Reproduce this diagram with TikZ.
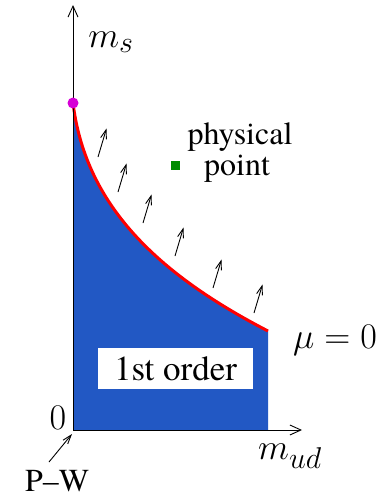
\documentclass[tikz,border=0pt]{standalone}
\usepackage{fontspec}
\IfFontExistsTF{texgyretermes-regular.otf}
  {\newfontfamily\tnr{texgyretermes-regular.otf}}
  {\newfontfamily\tnr{Liberation Serif}}
\usetikzlibrary{arrows.meta}
\definecolor{fillblue}{RGB}{34,88,196}
\definecolor{ptgreen}{RGB}{0,140,0}
\definecolor{dotmag}{RGB}{214,0,214}
\tikzset{
  axis/.style={line width=0.9, -{Straight Barb[length=11,width=10]}},
  flowarrow/.style={line width=0.9, -{Straight Barb[length=9,width=6]}},
  lbl/.style={inner sep=0, font=\tnr\fontsize{32}{32}\selectfont},
  mlbl/.style={inner sep=0, font=\Huge, scale=1.45},
  crit/.style={red, line width=3},
}
\begin{document}
\begin{tikzpicture}[x=1pt,y=-1pt]
\useasboundingbox (0,0) rectangle (382,498);
\coordinate (O) at (73,430);
\coordinate (A) at (73,103);
\coordinate (B) at (268,331);
\coordinate (C) at (268,430);
\coordinate (ytip) at (73,5);
\coordinate (xtip) at (302,430);
% region
\fill[fillblue] (O) -- (A) .. controls (85,200) and (150,270) .. (B) -- (C) -- cycle;
\draw[crit] (A) .. controls (85,200) and (150,270) .. (B);
% axes
\draw[axis] (O) -- (ytip);
\draw[axis] (O) -- (xtip);
\fill[dotmag] (A) circle (5.5);
% flow arrows
\foreach \x/\y in {98/157, 118/192, 143/223, 175/256, 213/288, 254/313}
  \draw[flowarrow] (\x,\y) -- ++(8.5,-28.5);
% labels
\node[mlbl] (ms) at (111,42) {$m_s$};
\node[mlbl] (mud) at (290,456) {$m_{ud}$};
\node[mlbl] (mu) at (335,340) {$\mu=0$};
\node[mlbl] (zero) at (58,418) {$0$};
\node[lbl] (PW) at (57,481) {P–W};
\coordinate (pwtail) at (49,462);
\coordinate (pwtip) at (72,434);
\draw[flowarrow] (pwtail) -- (pwtip);
\node[lbl, anchor=base] (phys) at (240,144) {physical};
\node[lbl, anchor=base] (pt) at (237,175) {point};
\node[fill=ptgreen, minimum size=9, inner sep=0] (pp) at (175,165) {};
\node[lbl, font=\tnr\fontsize{35}{35}\selectfont, fill=white, minimum width=155, minimum height=41] (fo) at (175.5,368.5) {1st order};
\end{tikzpicture}
\end{document}
